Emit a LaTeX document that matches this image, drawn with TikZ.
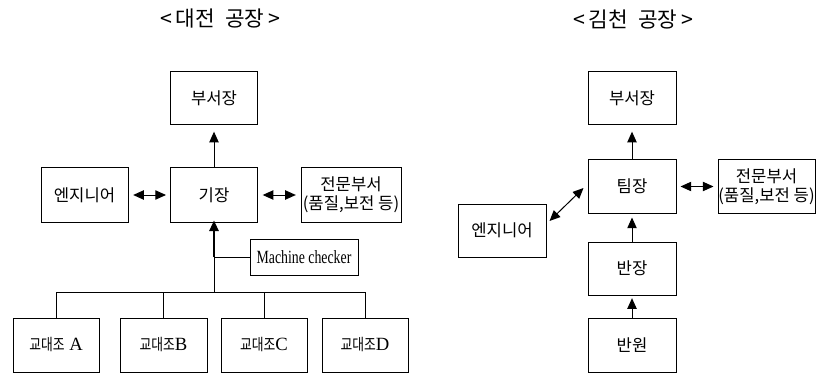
\documentclass[tikz,border=0pt]{standalone}
\usepackage{fontspec}
\setmainfont{Liberation Serif}
\newfontfamily\kr{Noto Sans CJK KR}
\newfontfamily\krnarrow[FakeStretch=0.8]{Noto Sans CJK KR}
\newfontfamily\sernarrow[FakeStretch=0.74]{Liberation Serif}
\usetikzlibrary{arrows.meta}
\begin{document}
\begin{tikzpicture}[x=0.75pt,y=-0.75pt,
  box/.style={draw,line width=0.75pt,inner sep=0pt,minimum width=65.25pt,minimum height=39.75pt,
    font=\kr\fontsize{12.5pt}{14pt}\selectfont,align=center},
  twoline/.style={font=\kr\fontsize{12.5pt}{14.5pt}\selectfont},
  shiftbox/.style={box,font=\fontsize{14pt}{16pt}\selectfont},
  shiftname/.style={},
  line/.style={line width=0.75pt},
  tip/.style={},
  up/.style={line,-{Triangle[length=8pt,width=7pt]}},
  dbl/.style={line,{Triangle[length=8pt,width=7pt]}-{Triangle[length=8pt,width=7pt]}},
  title/.style={font=\kr\fontsize{16pt}{18pt}\selectfont,inner sep=0pt}]
\useasboundingbox (0,0) rectangle (817,374);
\newcommand{\shiftword}{{\krnarrow\fontsize{12pt}{14pt}\selectfont 교대조}}

% ---- 대전 공장 ----
\node[title] (t1) at (220,19) {<\,대전\enspace 공장\,>};
\node[box] (bsj1) at (214,98) {부서장};
\node[box,minimum height=40.5pt] (gij) at (214,195) {기장};
\node[box,minimum height=40.5pt] (eng1) at (84.5,195) {엔지니어};
\node[box,twoline,minimum width=75pt,minimum height=40.5pt] (jm1) at (351,195) {전문부서\\(품질,보전 등)};
\node[draw,line width=0.75pt,inner sep=0pt,minimum width=81pt,minimum height=27pt,
      font=\sernarrow\fontsize{14pt}{16pt}\selectfont] (mc) at (304,257) {Machine checker};
\node[shiftbox,minimum width=64.5pt,minimum height=40.5pt] (sa) at (56,345) {\shiftword\ A};
\node[shiftbox,minimum width=65.25pt,minimum height=40.5pt] (sb) at (163.5,345) {\shiftword B};
\node[shiftbox,minimum width=64.5pt,minimum height=40.5pt] (sc) at (264,345) {\shiftword C};
\node[shiftbox,minimum width=64.5pt,minimum height=40.5pt] (sd) at (365,345) {\shiftword D};

\coordinate (bus) at (214,292);
\draw[up,shorten >=5pt] (gij.north) -- (bsj1.south);
\draw[dbl,shorten <=3.5pt,shorten >=3pt] (eng1.east) -- (gij.west);
\draw[dbl,shorten <=3.5pt,shorten >=3.5pt] (gij.east) -- (jm1.west);
\draw[line] (sa.north) -- (sa.north |- bus) -- (sd.north |- bus) -- (sd.north);
\draw[line] (sb.north) -- (sb.north |- bus);
\draw[line] (sc.north) -- (sc.north |- bus);
\coordinate (join) at (mc.west -| gij.south);
\draw[line] (mc.west) -- (join);
\draw[line] (bus) -- (join);
\draw[line width=1.5pt,-{Triangle[length=8pt,width=7pt]},shorten >=-1.5pt] (join) -- (gij.south);

% ---- 김천 공장 ----
\node[title] (t2) at (633,19) {<\,김천\enspace 공장\,>};
\node[box,minimum width=66pt] (bsj2) at (632,98) {부서장};
\node[box,minimum width=66pt] (tj) at (632,186.5) {팀장};
\node[box,twoline,minimum width=72.75pt] (jm2) at (766.5,186.5) {전문부서\\(품질,보전 등)};
\node[box,minimum width=66pt] (eng2) at (502,230.5) {엔지니어};
\node[box,minimum width=66pt] (bj) at (632,268.5) {반장};
\node[box,minimum width=66pt,minimum height=40.5pt] (bw) at (632,345) {반원};

\draw[up,shorten >=5pt] (tj.north) -- (bsj2.south);
\draw[up,shorten >=3pt] (bj.north) -- (tj.south);
\draw[up,shorten >=2pt] (bw.north) -- (bj.south);
\draw[dbl,shorten <=3pt,shorten >=3pt] (tj.east) -- (jm2.west);
\draw[dbl] ([shift={(3,-9.5)}]eng2.east) -- ([shift={(-4,1.5)}]tj.west);
\end{tikzpicture}
\end{document}
